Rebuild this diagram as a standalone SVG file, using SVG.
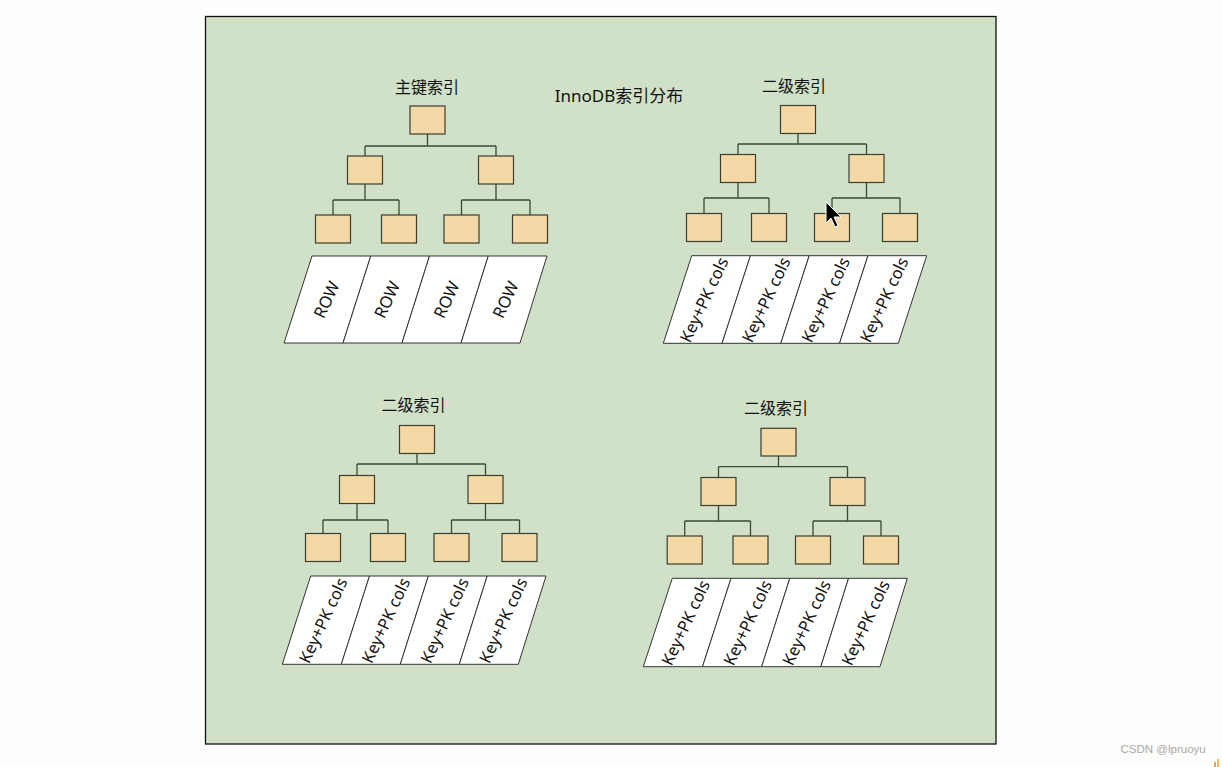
<svg xmlns="http://www.w3.org/2000/svg" width="1222" height="767" viewBox="0 0 1222 767">
<style>
.bg{fill:#fdfdfb}
.panel{fill:#d0e1c8;stroke:#111;stroke-width:1.3}
.box{fill:#f4d9a7;stroke:#3d3d30;stroke-width:1.2}
.cell{fill:#ffffff;stroke:#333;stroke-width:1}
.conn{fill:none;stroke:#3b4a33;stroke-width:1.3}
.title{font-family:"Noto Sans","Noto Sans CJK SC",sans-serif;font-size:16px;fill:#111;text-anchor:middle}
.main{font-family:"Noto Sans","Noto Sans CJK SC",sans-serif;font-size:17px;fill:#111;text-anchor:middle}
.lbl{font-family:"Noto Sans","Noto Sans CJK SC",sans-serif;font-size:16.5px;fill:#111;text-anchor:middle;dominant-baseline:central}
.wm{font-family:"Liberation Sans",Arial,sans-serif;font-size:11.5px;fill:#a8a8a8}
</style>
<rect class="bg" x="0" y="0" width="1222" height="767"/>
<rect id="panel" class="panel" x="205.5" y="16.5" width="790.5" height="727.5"/>
<g id="title-main"><text class="main" x="619" y="101.5">InnoDB索引分布</text></g>

<g id="connectors">
<path class="conn" d="M427.5,134V146M365,146H496M365,146V156M496,146V156M365,184V200M333,200H399M333,200V215M399,200V215M496,184V200M461.5,200H530M461.5,200V215M530,200V215"/>
<path class="conn" d="M798,133.5V144M738,144H866.5M738,144V154.5M866.5,144V154.5M738,182.5V198M704,198H769M704,198V213.5M769,198V213.5M866.5,182.5V198M832,198H900M832,198V213.5M900,198V213.5"/>
<path class="conn" d="M417,453.5V464M357,464H485.5M357,464V475.5M485.5,464V475.5M357,503.5V520M323,520H388M323,520V533.5M388,520V533.5M485.5,503.5V520M451.5,520H519.5M451.5,520V533.5M519.5,520V533.5"/>
<path class="conn" d="M778.5,456V466.7M718.5,466.7H847.5M718.5,466.7V477.5M847.5,466.7V477.5M718.5,505.5V521M684.7,521H750.5M684.7,521V536M750.5,521V536M847.5,505.5V521M813,521H881M813,521V536M881,521V536"/>
</g>

<!-- Tree 1: 主键索引 -->
<g id="t1-title"><text class="title" x="427" y="92.5">主键索引</text></g>
<g id="t1-root"><rect class="box" x="410" y="106" width="35" height="28"/></g>
<g id="t1-l2a"><rect class="box" x="347.5" y="156" width="35" height="28"/></g>
<g id="t1-l2b"><rect class="box" x="478.5" y="156" width="35" height="28"/></g>
<g id="t1-l3a"><rect class="box" x="315.5" y="215" width="35" height="28"/></g>
<g id="t1-l3b"><rect class="box" x="381.5" y="215" width="35" height="28"/></g>
<g id="t1-l3c"><rect class="box" x="444" y="215" width="35" height="28"/></g>
<g id="t1-l3d"><rect class="box" x="512.5" y="215" width="35" height="28"/></g>
<g id="t1-c1"><polygon class="cell" points="312,256 370.75,256 343,343 284,343"/><text class="lbl" transform="translate(326,299.5) rotate(-65)">ROW</text></g>
<g id="t1-c2"><polygon class="cell" points="370.75,256 429.5,256 402,343 343,343"/><text class="lbl" transform="translate(386.5,299.5) rotate(-65)">ROW</text></g>
<g id="t1-c3"><polygon class="cell" points="429.5,256 488.25,256 461,343 402,343"/><text class="lbl" transform="translate(446,299.5) rotate(-65)">ROW</text></g>
<g id="t1-c4"><polygon class="cell" points="488.25,256 547,256 520,343 461,343"/><text class="lbl" transform="translate(505,299.5) rotate(-65)">ROW</text></g>

<!-- Tree 2: 二级索引 top right -->
<g id="t2-title"><text class="title" x="794" y="91.5">二级索引</text></g>
<g id="t2-root"><rect class="box" x="780.5" y="105.5" width="35" height="28"/></g>
<g id="t2-l2a"><rect class="box" x="720.5" y="154.5" width="35" height="28"/></g>
<g id="t2-l2b"><rect class="box" x="849" y="154.5" width="35" height="28"/></g>
<g id="t2-l3a"><rect class="box" x="686.5" y="213.5" width="35" height="28"/></g>
<g id="t2-l3b"><rect class="box" x="751.5" y="213.5" width="35" height="28"/></g>
<g id="t2-l3c"><rect class="box" x="814.5" y="213.5" width="35" height="28"/></g>
<g id="t2-l3d"><rect class="box" x="882.5" y="213.5" width="35" height="28"/></g>
<g id="t2-c1"><polygon class="cell" points="691.7,255.7 750.45,255.7 722.05,343.3 663.3,343.3"/><text class="lbl" transform="translate(703.5,299.5) rotate(-65)">Key+PK cols</text></g>
<g id="t2-c2"><polygon class="cell" points="750.45,255.7 809.2,255.7 780.8,343.3 722.05,343.3"/><text class="lbl" transform="translate(765.5,299.5) rotate(-65)">Key+PK cols</text></g>
<g id="t2-c3"><polygon class="cell" points="809.2,255.7 867.95,255.7 839.55,343.3 780.8,343.3"/><text class="lbl" transform="translate(825,299.5) rotate(-65)">Key+PK cols</text></g>
<g id="t2-c4"><polygon class="cell" points="867.95,255.7 926.7,255.7 898.3,343.3 839.55,343.3"/><text class="lbl" transform="translate(883.5,299.5) rotate(-65)">Key+PK cols</text></g>

<!-- Tree 3: 二级索引 bottom left -->
<g id="t3-title"><text class="title" x="413.5" y="411">二级索引</text></g>
<g id="t3-root"><rect class="box" x="399.5" y="425.5" width="35" height="28"/></g>
<g id="t3-l2a"><rect class="box" x="339.5" y="475.5" width="35" height="28"/></g>
<g id="t3-l2b"><rect class="box" x="468" y="475.5" width="35" height="28"/></g>
<g id="t3-l3a"><rect class="box" x="305.5" y="533.5" width="35" height="28"/></g>
<g id="t3-l3b"><rect class="box" x="370.5" y="533.5" width="35" height="28"/></g>
<g id="t3-l3c"><rect class="box" x="434" y="533.5" width="35" height="28"/></g>
<g id="t3-l3d"><rect class="box" x="502" y="533.5" width="35" height="28"/></g>
<g id="t3-c1"><polygon class="cell" points="310.7,576 369.5,576 341.3,664.3 282.3,664.3"/><text class="lbl" transform="translate(322.5,620.2) rotate(-65)">Key+PK cols</text></g>
<g id="t3-c2"><polygon class="cell" points="369.5,576 428.35,576 400.3,664.3 341.3,664.3"/><text class="lbl" transform="translate(385.3,620.2) rotate(-65)">Key+PK cols</text></g>
<g id="t3-c3"><polygon class="cell" points="428.35,576 487.2,576 459.3,664.3 400.3,664.3"/><text class="lbl" transform="translate(444,620.2) rotate(-65)">Key+PK cols</text></g>
<g id="t3-c4"><polygon class="cell" points="487.2,576 546,576 518.3,664.3 459.3,664.3"/><text class="lbl" transform="translate(502.6,620.2) rotate(-65)">Key+PK cols</text></g>

<!-- Tree 4: 二级索引 bottom right -->
<g id="t4-title"><text class="title" x="776" y="413.5">二级索引</text></g>
<g id="t4-root"><rect class="box" x="761" y="428.3" width="35" height="27.7"/></g>
<g id="t4-l2a"><rect class="box" x="701" y="477.5" width="35" height="28"/></g>
<g id="t4-l2b"><rect class="box" x="830" y="477.5" width="35" height="28"/></g>
<g id="t4-l3a"><rect class="box" x="667.2" y="536" width="35" height="28"/></g>
<g id="t4-l3b"><rect class="box" x="733" y="536" width="35" height="28"/></g>
<g id="t4-l3c"><rect class="box" x="795.5" y="536" width="35" height="28"/></g>
<g id="t4-l3d"><rect class="box" x="863.5" y="536" width="35" height="28"/></g>
<g id="t4-c1"><polygon class="cell" points="672.3,578.3 731.05,578.3 702.5,666.7 643.3,666.7"/><text class="lbl" transform="translate(685,622.5) rotate(-65)">Key+PK cols</text></g>
<g id="t4-c2"><polygon class="cell" points="731.05,578.3 789.8,578.3 761.65,666.7 702.5,666.7"/><text class="lbl" transform="translate(747,622.5) rotate(-65)">Key+PK cols</text></g>
<g id="t4-c3"><polygon class="cell" points="789.8,578.3 848.55,578.3 820.8,666.7 761.65,666.7"/><text class="lbl" transform="translate(806,622.5) rotate(-65)">Key+PK cols</text></g>
<g id="t4-c4"><polygon class="cell" points="848.55,578.3 907.3,578.3 880,666.7 820.8,666.7"/><text class="lbl" transform="translate(865,622.5) rotate(-65)">Key+PK cols</text></g>

<g id="cursor"><polygon points="826,202 826,223 831,218 835,227 838,225.5 834,217 841,217" fill="#000" stroke="#fff" stroke-width="1"/></g>
<g id="watermark"><text class="wm" x="1120.5" y="752.5">CSDN @lpruoyu</text></g>
<g id="corner-icon"><rect x="1214" y="762" width="2" height="5" fill="#e8a33a"/><rect x="1217" y="759" width="2" height="8" fill="#f0c040"/></g>
</svg>
